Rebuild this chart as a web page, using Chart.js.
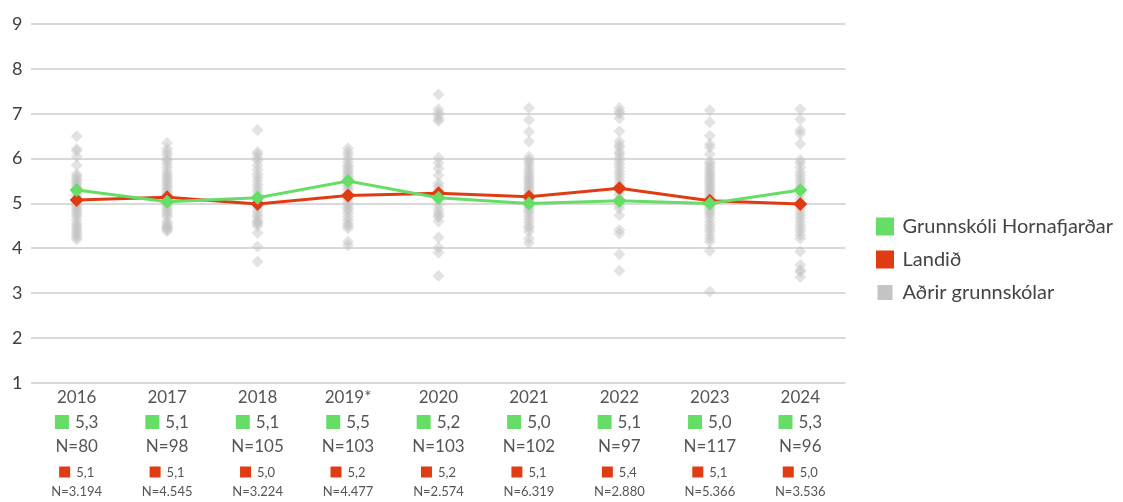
<!DOCTYPE html>
<html lang="is">
<head>
<meta charset="utf-8">
<title>Grunnskóli Hornafjarðar</title>
<script src="https://cdn.jsdelivr.net/npm/chart.js@4.4.1/dist/chart.umd.min.js"></script>
<style>
  html, body { margin: 0; padding: 0; background: #fff; }
  #wrap { width: 1123px; height: 502px; position: relative; }
</style>
</head>
<body>
<div id="wrap"><canvas id="chart"></canvas></div>
<script>
// =============================
// Gögn
// =============================
const years = ["2016", "2017", "2018", "2019*", "2020", "2021", "2022", "2023", "2024"];
const yTicks = [1, 2, 3, 4, 5, 6, 7, 8, 9];

// Grunnskóli Hornafjarðar
const schoolValues = [5.30, 5.04, 5.13, 5.50, 5.13, 5.00, 5.06, 5.00, 5.30];
const schoolLabels = ["5,3", "5,1", "5,1", "5,5", "5,2", "5,0", "5,1", "5,0", "5,3"];
const schoolN = ["80", "98", "105", "103", "103", "102", "97", "117", "96"];

// Landið
const nationalValues = [5.08, 5.14, 4.99, 5.18, 5.23, 5.15, 5.34, 5.06, 4.99];
const nationalLabels = ["5,1", "5,1", "5,0", "5,2", "5,2", "5,1", "5,4", "5,1", "5,0"];
const nationalN = ["3.194", "4.545", "3.224", "4.477", "2.574", "6.319", "2.880", "5.366", "3.536"];

// Aðrir grunnskólar (eitt gildi á hvern skóla)
const other2016 = [6.5, 6.22, 6.17, 6.05, 5.85, 5.65, 5.6, 5.55, 5.5, 5.45, 5.4, 5.35, 5.3, 5.25, 5.2, 5.15, 5.1, 5.05, 5.0, 4.95, 4.9, 4.85, 4.8, 4.75, 4.7, 4.62, 4.55, 4.5, 4.45, 4.4, 4.35, 4.3, 4.25, 4.2];
const other2017 = [6.35, 6.22, 6.15, 6.08, 6.0, 5.95, 5.88, 5.8, 5.72, 5.65, 5.6, 5.55, 5.5, 5.45, 5.4, 5.35, 5.3, 5.25, 5.2, 5.15, 5.1, 5.05, 5.0, 4.95, 4.9, 4.85, 4.8, 4.75, 4.7, 4.6, 4.55, 4.5, 4.48, 4.45, 4.42, 4.38];
const other2018 = [6.64, 6.15, 6.1, 6.02, 5.95, 5.85, 5.75, 5.65, 5.58, 5.5, 5.42, 5.35, 5.28, 5.2, 5.12, 5.05, 4.98, 4.9, 4.82, 4.75, 4.7, 4.62, 4.58, 4.55, 4.5, 4.34, 4.04, 3.7];
const other2019 = [6.23, 6.15, 6.08, 6.0, 5.92, 5.85, 5.8, 5.75, 5.7, 5.65, 5.6, 5.55, 5.5, 5.45, 5.4, 5.35, 5.3, 5.22, 5.15, 5.1, 5.02, 4.95, 4.9, 4.85, 4.78, 4.7, 4.62, 4.55, 4.5, 4.45, 4.15, 4.07];
const other2020 = [7.43, 7.1, 7.02, 6.95, 6.88, 6.84, 6.02, 5.9, 5.78, 5.63, 5.45, 5.38, 5.3, 5.25, 5.15, 5.08, 4.97, 4.88, 4.8, 4.74, 4.7, 4.6, 4.24, 4.02, 3.9, 3.39];
const other2021 = [7.13, 6.86, 6.6, 6.38, 6.04, 5.97, 5.92, 5.85, 5.78, 5.72, 5.65, 5.6, 5.55, 5.5, 5.45, 5.4, 5.35, 5.3, 5.25, 5.2, 5.1, 5.05, 5.0, 4.95, 4.9, 4.85, 4.8, 4.72, 4.65, 4.58, 4.5, 4.45, 4.37, 4.22, 4.12];
const other2022 = [7.13, 7.05, 7.0, 6.9, 6.61, 6.38, 6.3, 6.25, 6.15, 6.1, 6.02, 5.95, 5.88, 5.8, 5.72, 5.65, 5.58, 5.5, 5.42, 5.35, 5.28, 5.2, 5.1, 5.02, 4.95, 4.89, 4.74, 4.41, 4.33, 3.87, 3.5];
const other2023 = [7.08, 6.81, 6.51, 6.32, 6.25, 6.1, 5.93, 5.88, 5.82, 5.76, 5.7, 5.65, 5.6, 5.55, 5.5, 5.45, 5.4, 5.35, 5.3, 5.25, 5.2, 5.15, 5.1, 5.0, 4.95, 4.9, 4.85, 4.8, 4.75, 4.68, 4.6, 4.52, 4.45, 4.38, 4.3, 4.22, 4.15, 3.94, 3.04];
const other2024 = [7.1, 6.88, 6.64, 6.56, 6.33, 5.97, 5.9, 5.8, 5.7, 5.63, 5.55, 5.48, 5.4, 5.3, 5.2, 5.1, 4.98, 4.9, 4.82, 4.75, 4.68, 4.6, 4.52, 4.45, 4.38, 4.3, 4.22, 3.93, 3.63, 3.52, 3.48, 3.36];
const otherByYear = [other2016, other2017, other2018, other2019, other2020, other2021, other2022, other2023, other2024];

// =============================
// Litir og letur
// =============================
const GREEN = "#66dd66";
const RED = "#e03c14";
const GRAY = "#c4c4c4";
const TEXT = "#555555";
const FONT = "Lato, 'Open Sans', sans-serif";

// punktar hinna skólanna á flokkaás
const otherPoints = [];
otherByYear.forEach((vals, i) => {
  vals.forEach(v => otherPoints.push({ x: years[i], y: v }));
});

// =============================
// Tafla undir x-ás (litaðir ferningar + N)
// =============================
function keyedText(ctx, cx, cy, color, size, text, font) {
  ctx.font = font;
  const gap = 6;
  const w = size + gap + ctx.measureText(text).width;
  const left = cx - w / 2;
  ctx.fillStyle = color;
  ctx.fillRect(left, cy - size / 2, size, size);
  ctx.fillStyle = TEXT;
  ctx.textAlign = "left";
  ctx.fillText(text, left + size + gap, cy + 1);
}

const bottomTable = {
  id: "bottomTable",
  afterDraw(chart) {
    const { ctx, chartArea } = chart;
    const x = chart.scales.x;
    const base = chartArea.bottom;
    ctx.save();
    ctx.textBaseline = "middle";
    years.forEach((y, i) => {
      const cx = x.getPixelForValue(i);
      keyedText(ctx, cx, base + 39, GREEN, 14, schoolLabels[i], "17px " + FONT);
      ctx.fillStyle = TEXT;
      ctx.textAlign = "center";
      ctx.font = "17px " + FONT;
      ctx.fillText("N=" + schoolN[i], cx, base + 64);
      keyedText(ctx, cx, base + 89, RED, 11, nationalLabels[i], "13px " + FONT);
      ctx.fillStyle = TEXT;
      ctx.textAlign = "center";
      ctx.font = "13px " + FONT;
      ctx.fillText("N=" + nationalN[i], cx, base + 109);
    });
    ctx.restore();
  }
};

// =============================
// Graf
// =============================
new Chart(document.getElementById("chart"), {
  type: "line",
  data: {
    labels: years,
    datasets: [
      {
        label: "Grunnskóli Hornafjarðar",
        data: schoolValues,
        borderColor: GREEN,
        backgroundColor: GREEN,
        borderWidth: 3,
        pointStyle: "rectRot",
        pointRadius: 7,
        pointBorderWidth: 0,
        pointBackgroundColor: GREEN,
        tension: 0,
        order: 0
      },
      {
        label: "Landið",
        data: nationalValues,
        borderColor: RED,
        backgroundColor: RED,
        borderWidth: 3,
        pointStyle: "rectRot",
        pointRadius: 7,
        pointBorderWidth: 0,
        pointBackgroundColor: RED,
        tension: 0,
        order: 1
      },
      {
        label: "Aðrir grunnskólar",
        data: otherPoints,
        showLine: false,
        borderColor: GRAY,
        backgroundColor: GRAY,
        borderWidth: 0,
        pointStyle: "rectRot",
        pointRadius: 6,
        pointBorderWidth: 0,
        pointBackgroundColor: "rgba(192,192,192,0.45)",
        order: 2
      }
    ]
  },
  options: {
    responsive: true,
    maintainAspectRatio: false,
    animation: false,
    layout: { padding: { left: 3, right: 0, top: 24, bottom: 7 } },
    plugins: {
      tooltip: { enabled: false },
      legend: {
        position: "right",
        maxWidth: 320,
        labels: {
          color: "#444",
          font: { family: FONT, size: 20 },
          boxWidth: 15,
          boxHeight: 15,
          padding: 13
        }
      }
    },
    scales: {
      x: {
        offset: true,
        grid: { display: false, drawTicks: false, tickLength: 0 },
        border: { display: false },
        ticks: { color: TEXT, font: { family: FONT, size: 17 }, padding: 4 },
        afterFit: axis => { axis.height = 112; }
      },
      y: {
        min: 1,
        max: 9,
        afterBuildTicks: axis => { axis.ticks = yTicks.map(v => ({ value: v })); },
        grid: { color: "#d9d9d9", lineWidth: 2, drawTicks: false },
        border: { display: false },
        ticks: { color: "#404040", font: { family: FONT, size: 18 }, padding: 9 }
      },
      // tómur ás hægra megin: bil milli grafs og skýringa
      gap: {
        position: "right",
        display: true,
        grid: { display: false },
        border: { display: false },
        ticks: { display: false },
        afterFit: axis => { axis.width = 19; }
      }
    }
  },
  plugins: [bottomTable]
});
</script>
</body>
</html>
